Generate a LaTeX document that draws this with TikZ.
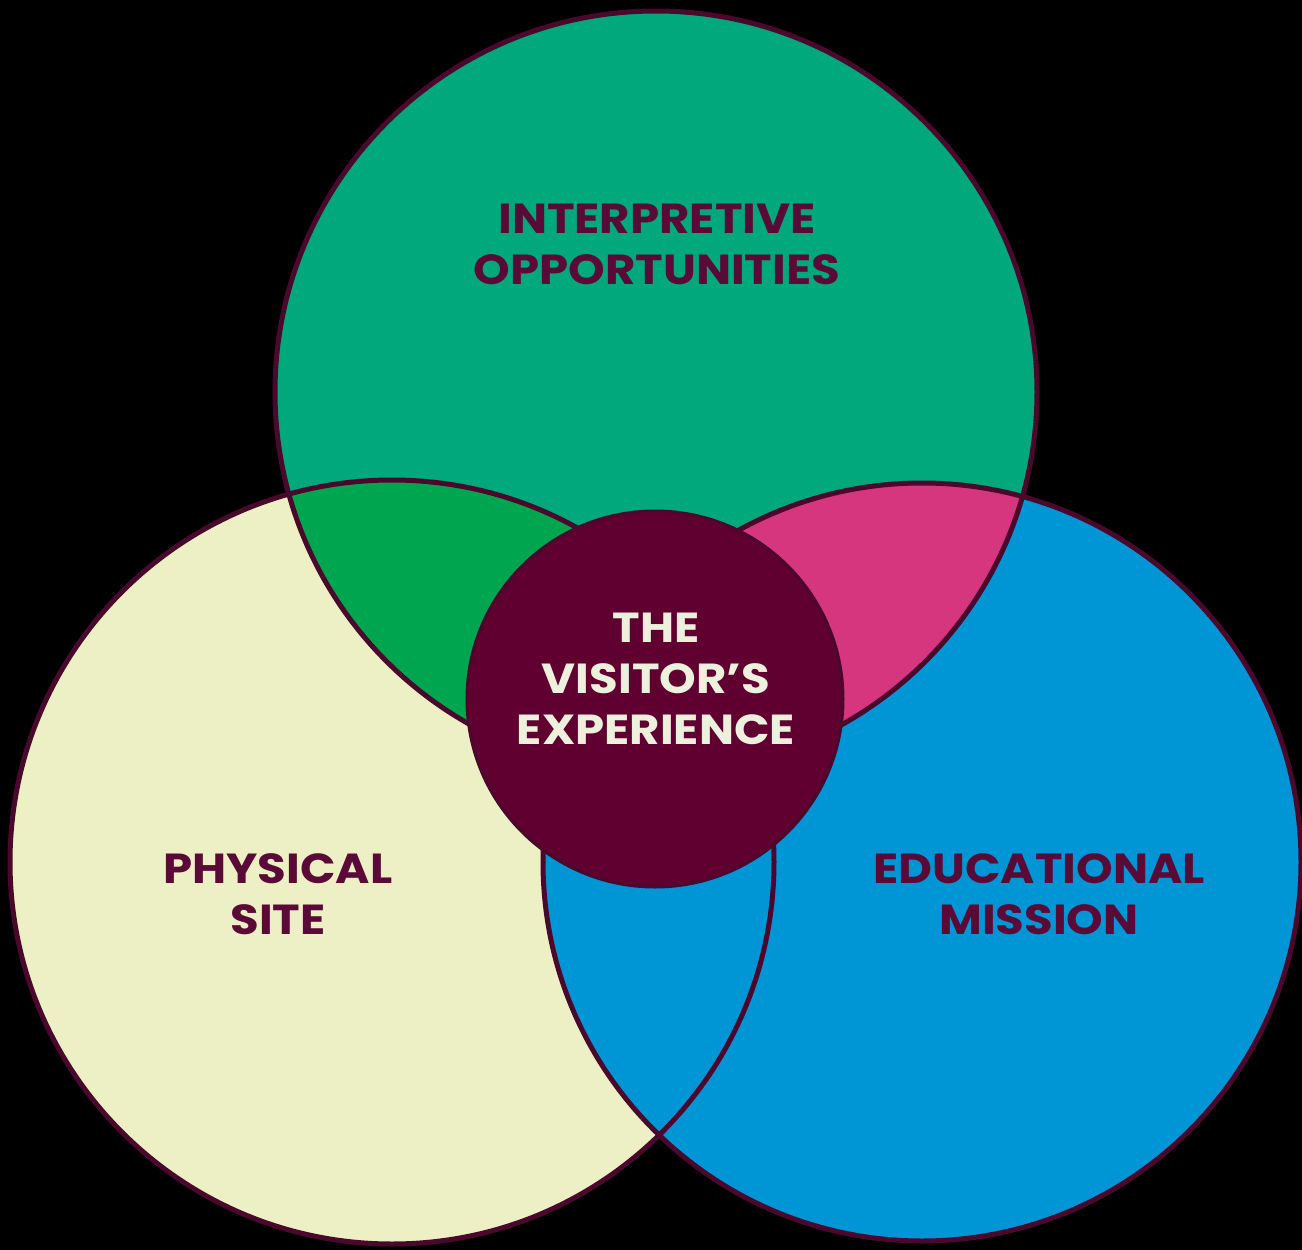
\documentclass[tikz,border=0pt]{standalone}
\usepackage{fontspec}
\newfontfamily\labfont{Poppins}[FakeStretch=1.11]
\definecolor{topgreen}{RGB}{0,168,124}
\definecolor{tlgreen}{RGB}{0,165,80}
\definecolor{trmagenta}{RGB}{214,54,126}
\definecolor{rblue}{RGB}{0,150,214}
\definecolor{lpale}{RGB}{236,240,196}
\definecolor{cmaroon}{RGB}{96,0,48}
\definecolor{outlinec}{RGB}{74,8,44}
\definecolor{labelc}{RGB}{90,10,55}
\definecolor{ctext}{RGB}{238,240,222}
\tikzset{
  ring/.style={draw=outlinec, line width=5pt},
  lab/.style={text=labelc, align=center, inner sep=0pt,
    font=\labfont\bfseries\fontsize{42}{51}\selectfont},
  clab/.style={lab, text=ctext},
}
\begin{document}
\begin{tikzpicture}[x=1pt,y=-1pt]
\fill[black] (0,0) rectangle (1302,1250);
\useasboundingbox (0,0) rectangle (1302,1250);
\coordinate (T) at (656,392);
\coordinate (L) at (392,862);
\coordinate (R) at (922,862);
\coordinate (C) at (655,699);
% base fills
\fill[lpale] (L) circle[radius=382pt];
\fill[rblue] (R) circle[radius=379pt];
\fill[topgreen] (T) circle[radius=381pt];
\begin{scope}
  \clip (T) circle[radius=381pt];
  \fill[tlgreen] (L) circle[radius=382pt];
  \fill[trmagenta] (R) circle[radius=379pt];
\end{scope}
% outlines
\draw[ring] (T) circle[radius=381pt];
\draw[ring] (L) circle[radius=382pt];
\draw[ring] (R) circle[radius=379pt];
% centre circle
\node[circle, fill=cmaroon, draw=outlinec, line width=3pt, minimum size=376pt, inner sep=0pt] (centre) at (C) {};
% labels
\node[lab] (interp) at (657,244) {INTERPRETIVE\\OPPORTUNITIES};
\node[lab] (phys) at (278,894) {PHYSICAL\\SITE};
\node[lab] (edu) at (1039,894) {EDUCATIONAL\\MISSION};
\node[clab] (visit) at (656,679) {THE\\VISITOR’S\\EXPERIENCE};
\end{tikzpicture}
\end{document}
